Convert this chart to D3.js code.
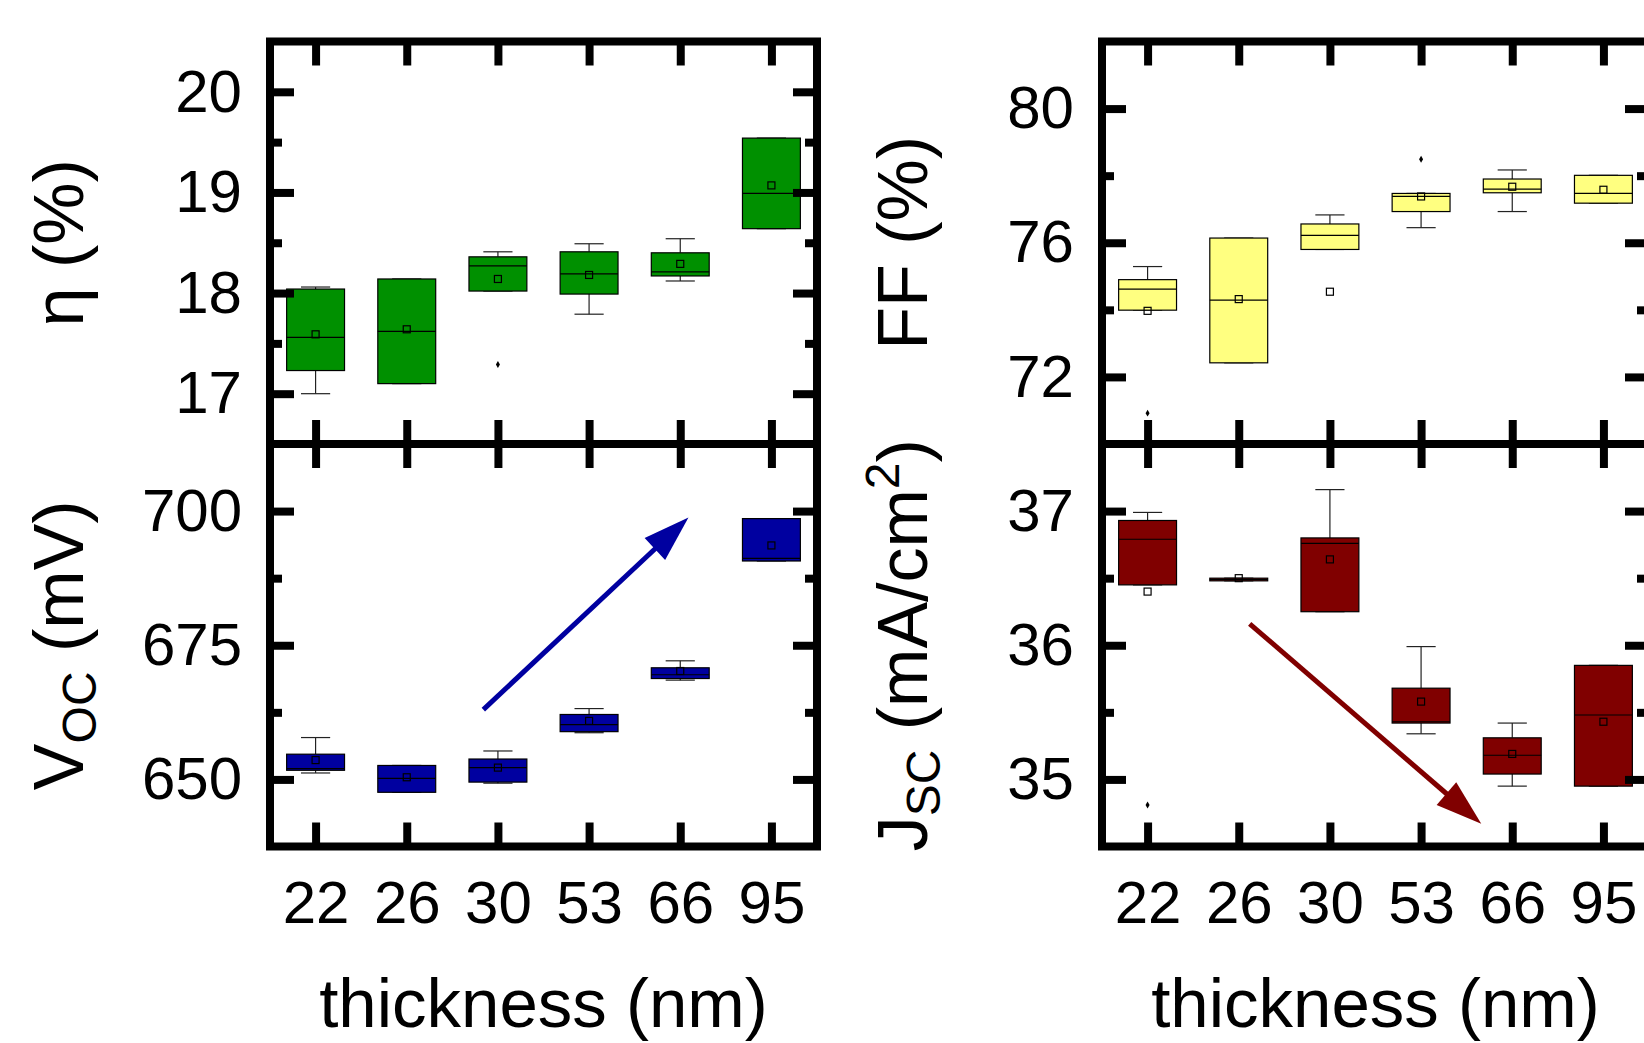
<!DOCTYPE html>
<html>
<head>
<meta charset="utf-8">
<script src="https://cdn.jsdelivr.net/npm/d3@7"></script>
<style>
body { margin: 0; background: #fff; }
text { font-family: "Liberation Sans", Arial, sans-serif; fill: #000; }
</style>
</head>
<body>
<svg id="chart"></svg>
<script>
var thickness = ['22', '26', '30', '53', '66', '95'];

// each row: [whisker low, Q1, median, Q3, whisker high, mean]
var etaStats = [
  [17.00, 17.23, 17.56, 18.04, 18.06, 17.59],
  [17.10, 17.10, 17.62, 18.14, 18.14, 17.64],
  [18.02, 18.02, 18.27, 18.36, 18.41, 18.14],
  [17.79, 17.99, 18.19, 18.41, 18.49, 18.18],
  [18.12, 18.17, 18.21, 18.40, 18.54, 18.29],
  [18.64, 18.64, 18.99, 19.54, 19.54, 19.07]
];
var etaOutliers = [['30', 17.29]];

var vocStats = [
  [651.2, 651.7, 652.0, 654.7, 657.8, 653.6],
  [647.6, 647.6, 650.2, 652.6, 652.6, 650.4],
  [649.3, 649.5, 652.2, 653.8, 655.3, 652.2],
  [658.7, 658.9, 660.2, 662.1, 663.2, 660.9],
  [668.5, 668.8, 669.5, 670.8, 672.1, 670.2],
  [690.7, 690.7, 691.2, 698.6, 698.6, 693.6]
];
var vocOutliers = [];

var ffStats = [
  [73.99, 73.99, 74.62, 74.90, 75.29, 73.97],
  [72.42, 72.42, 74.29, 76.14, 76.14, 74.32],
  [75.80, 75.80, 76.22, 76.56, 76.83, 74.54],
  [76.45, 76.93, 77.38, 77.47, 77.47, 77.38],
  [76.93, 77.49, 77.60, 77.90, 78.17, 77.67],
  [77.18, 77.18, 77.47, 78.01, 78.01, 77.58]
];
var ffOutliers = [['22', 70.92], ['53', 78.49]];

var jscStats = [
  [36.45, 36.45, 36.79, 36.93, 36.99, 36.40],
  [36.48, 36.48, 36.49, 36.50, 36.50, 36.50],
  [36.25, 36.25, 36.76, 36.80, 37.16, 36.64],
  [35.34, 35.42, 35.43, 35.68, 35.99, 35.58],
  [34.95, 35.04, 35.18, 35.31, 35.42, 35.19],
  [34.95, 34.95, 35.48, 35.85, 35.85, 35.43]
];
var jscOutliers = [['22', 34.81]];

var etaTicks = [17, 18, 19, 20], etaMinor = [17.5, 18.5, 19.5];
var vocTicks = [650, 675, 700], vocMinor = [662.5, 687.5];
var ffTicks = [72, 76, 80], ffMinor = [74, 78];
var jscTicks = [35, 36, 37], jscMinor = [35.5, 36.5];

// trend arrows: [category index, value] for tail and tip
var vocArrow = [[1.84, 663.0], [4.09, 698.8]];
var jscArrow = [[1.12, 36.16], [3.66, 34.67]];

var width = 1644, height = 1043;
var colX = [270, 1102], rowY = [41.5, 444];
var pw = 547, ph = 402.5;

var panels = [
  {col: 0, row: 0, stats: etaStats, out: etaOutliers, domain: [16.5, 20.5], ticks: etaTicks, minor: etaMinor, color: '#009000'},
  {col: 0, row: 1, stats: vocStats, out: vocOutliers, domain: [637.5, 712.5], ticks: vocTicks, minor: vocMinor, color: '#0000a0', arrow: vocArrow},
  {col: 1, row: 0, stats: ffStats, out: ffOutliers, domain: [70, 82], ticks: ffTicks, minor: ffMinor, color: '#ffff80'},
  {col: 1, row: 1, stats: jscStats, out: jscOutliers, domain: [34.5, 37.5], ticks: jscTicks, minor: jscMinor, color: '#800000', arrow: jscArrow}
];

var svg = d3.select('#chart')
    .attr('width', width)
    .attr('height', height)
    .style('display', 'block');

svg.append('rect').attr('width', width).attr('height', height).attr('fill', '#fff');

panels.forEach(function(p) {
  var g = svg.append('g')
      .attr('transform', 'translate(' + colX[p.col] + ',' + rowY[p.row] + ')');

  var x = d3.scalePoint().domain(thickness).range([0, pw]).padding(0.5);
  var y = d3.scaleLinear().domain(p.domain).range([ph, 0]);
  var bw = x.step() * 0.635, cw = x.step() * 0.32;

  var box = g.selectAll('.box')
      .data(p.stats)
    .enter().append('g')
      .attr('class', 'box')
      .attr('transform', (d, i) => 'translate(' + x(thickness[i]) + ',0)');

  box.append('line')
      .attr('y1', d => y(d[0])).attr('y2', d => y(d[1]))
      .attr('stroke', '#222').attr('stroke-width', 1.2);
  box.append('line')
      .attr('y1', d => y(d[3])).attr('y2', d => y(d[4]))
      .attr('stroke', '#222').attr('stroke-width', 1.2);
  box.append('line')
      .attr('x1', -cw / 2).attr('x2', cw / 2)
      .attr('y1', d => y(d[0])).attr('y2', d => y(d[0]))
      .attr('stroke', '#222').attr('stroke-width', 1.2);
  box.append('line')
      .attr('x1', -cw / 2).attr('x2', cw / 2)
      .attr('y1', d => y(d[4])).attr('y2', d => y(d[4]))
      .attr('stroke', '#222').attr('stroke-width', 1.2);
  box.append('rect')
      .attr('x', -bw / 2)
      .attr('width', bw)
      .attr('y', d => y(d[3]))
      .attr('height', d => Math.max(y(d[1]) - y(d[3]), 1))
      .attr('fill', p.color)
      .attr('stroke', '#000')
      .attr('stroke-width', 1.2);
  box.append('line')
      .attr('x1', -bw / 2).attr('x2', bw / 2)
      .attr('y1', d => y(d[2])).attr('y2', d => y(d[2]))
      .attr('stroke', '#000').attr('stroke-width', 1.2);
  box.append('rect')
      .attr('x', -3.5).attr('width', 7)
      .attr('y', d => y(d[5]) - 3.5).attr('height', 7)
      .attr('fill', 'none')
      .attr('stroke', '#000')
      .attr('stroke-width', 1.2);

  g.selectAll('.outlier')
      .data(p.out)
    .enter().append('path')
      .attr('class', 'outlier')
      .attr('d', d3.symbol(d3.symbolDiamond, 14))
      .attr('transform', d => 'translate(' + x(d[0]) + ',' + y(d[1]) + ')')
      .attr('fill', '#000');

  if (p.arrow) {
    var ax = i => x(thickness[0]) + i * x.step();
    var x1 = ax(p.arrow[0][0]), y1 = y(p.arrow[0][1]);
    var x2 = ax(p.arrow[1][0]), y2 = y(p.arrow[1][1]);
    var len = Math.hypot(x2 - x1, y2 - y1);
    var ux = (x2 - x1) / len, uy = (y2 - y1) / len;
    var hl = 46, hw = 15;
    var bx = x2 - ux * hl, by = y2 - uy * hl;
    g.append('line')
        .attr('x1', x1).attr('y1', y1)
        .attr('x2', bx + ux * 4).attr('y2', by + uy * 4)
        .attr('stroke', p.color).attr('stroke-width', 5);
    g.append('path')
        .attr('d', 'M' + x2 + ',' + y2 +
                   'L' + (bx - uy * hw) + ',' + (by + ux * hw) +
                   'L' + (bx + uy * hw) + ',' + (by - ux * hw) + 'Z')
        .attr('fill', p.color);
  }

  // axes with inward ticks on all four sides
  g.append('g')
      .call(d3.axisLeft(y).tickValues(p.ticks).tickSize(-24).tickPadding(28)
        .tickFormat(d3.format('d')));
  g.append('g')
      .call(d3.axisLeft(y).tickValues(p.minor).tickSize(-12).tickFormat(''));
  g.append('g').attr('transform', 'translate(' + pw + ',0)')
      .call(d3.axisRight(y).tickValues(p.ticks).tickSize(-24).tickFormat(''));
  g.append('g').attr('transform', 'translate(' + pw + ',0)')
      .call(d3.axisRight(y).tickValues(p.minor).tickSize(-12).tickFormat(''));
  g.append('g')
      .call(d3.axisTop(x).tickSize(-24).tickFormat(''));
  g.append('g').attr('transform', 'translate(0,' + ph + ')')
      .call(d3.axisBottom(x).tickSize(-24).tickPadding(34)
        .tickFormat(p.row === 1 ? (d => d) : ''));

  g.selectAll('.domain').remove();
  g.selectAll('.tick line').attr('stroke', '#000').attr('stroke-width', 8);
  g.selectAll('.tick text').style('font-size', '60px')
      .style('font-family', '"Liberation Sans", Arial, sans-serif')
      .attr('fill', '#000');

  g.append('rect')
      .attr('width', pw).attr('height', ph)
      .attr('fill', 'none')
      .attr('stroke', '#000')
      .attr('stroke-width', 8);
});

// x titles
[0, 1].forEach(function(c) {
  svg.append('text')
      .attr('x', colX[c] + pw / 2)
      .attr('y', 1027)
      .attr('text-anchor', 'middle')
      .style('font-size', '69px')
      .text('thickness (nm)');
});

// y titles
function yTitle(xPos, row) {
  return svg.append('text')
      .attr('transform', 'translate(' + xPos + ',' + (rowY[row] + ph / 2) + ') rotate(-90)')
      .attr('text-anchor', 'middle')
      .style('font-size', '70px');
}

yTitle(83, 0).text('η (%)');

var voc = yTitle(83, 1);
voc.append('tspan').text('V');
voc.append('tspan').attr('dy', 13).style('font-size', '48px').text('OC');
voc.append('tspan').attr('dy', -13).text(' (mV)');

yTitle(927, 0).text('FF (%)');

var jsc = yTitle(927, 1);
jsc.append('tspan').text('J');
jsc.append('tspan').attr('dy', 13).style('font-size', '48px').text('SC');
jsc.append('tspan').attr('dy', -13).text(' (mA/cm');
jsc.append('tspan').attr('dy', -28).style('font-size', '48px').text('2');
jsc.append('tspan').attr('dy', 28).text(')');
</script>
</body>
</html>
